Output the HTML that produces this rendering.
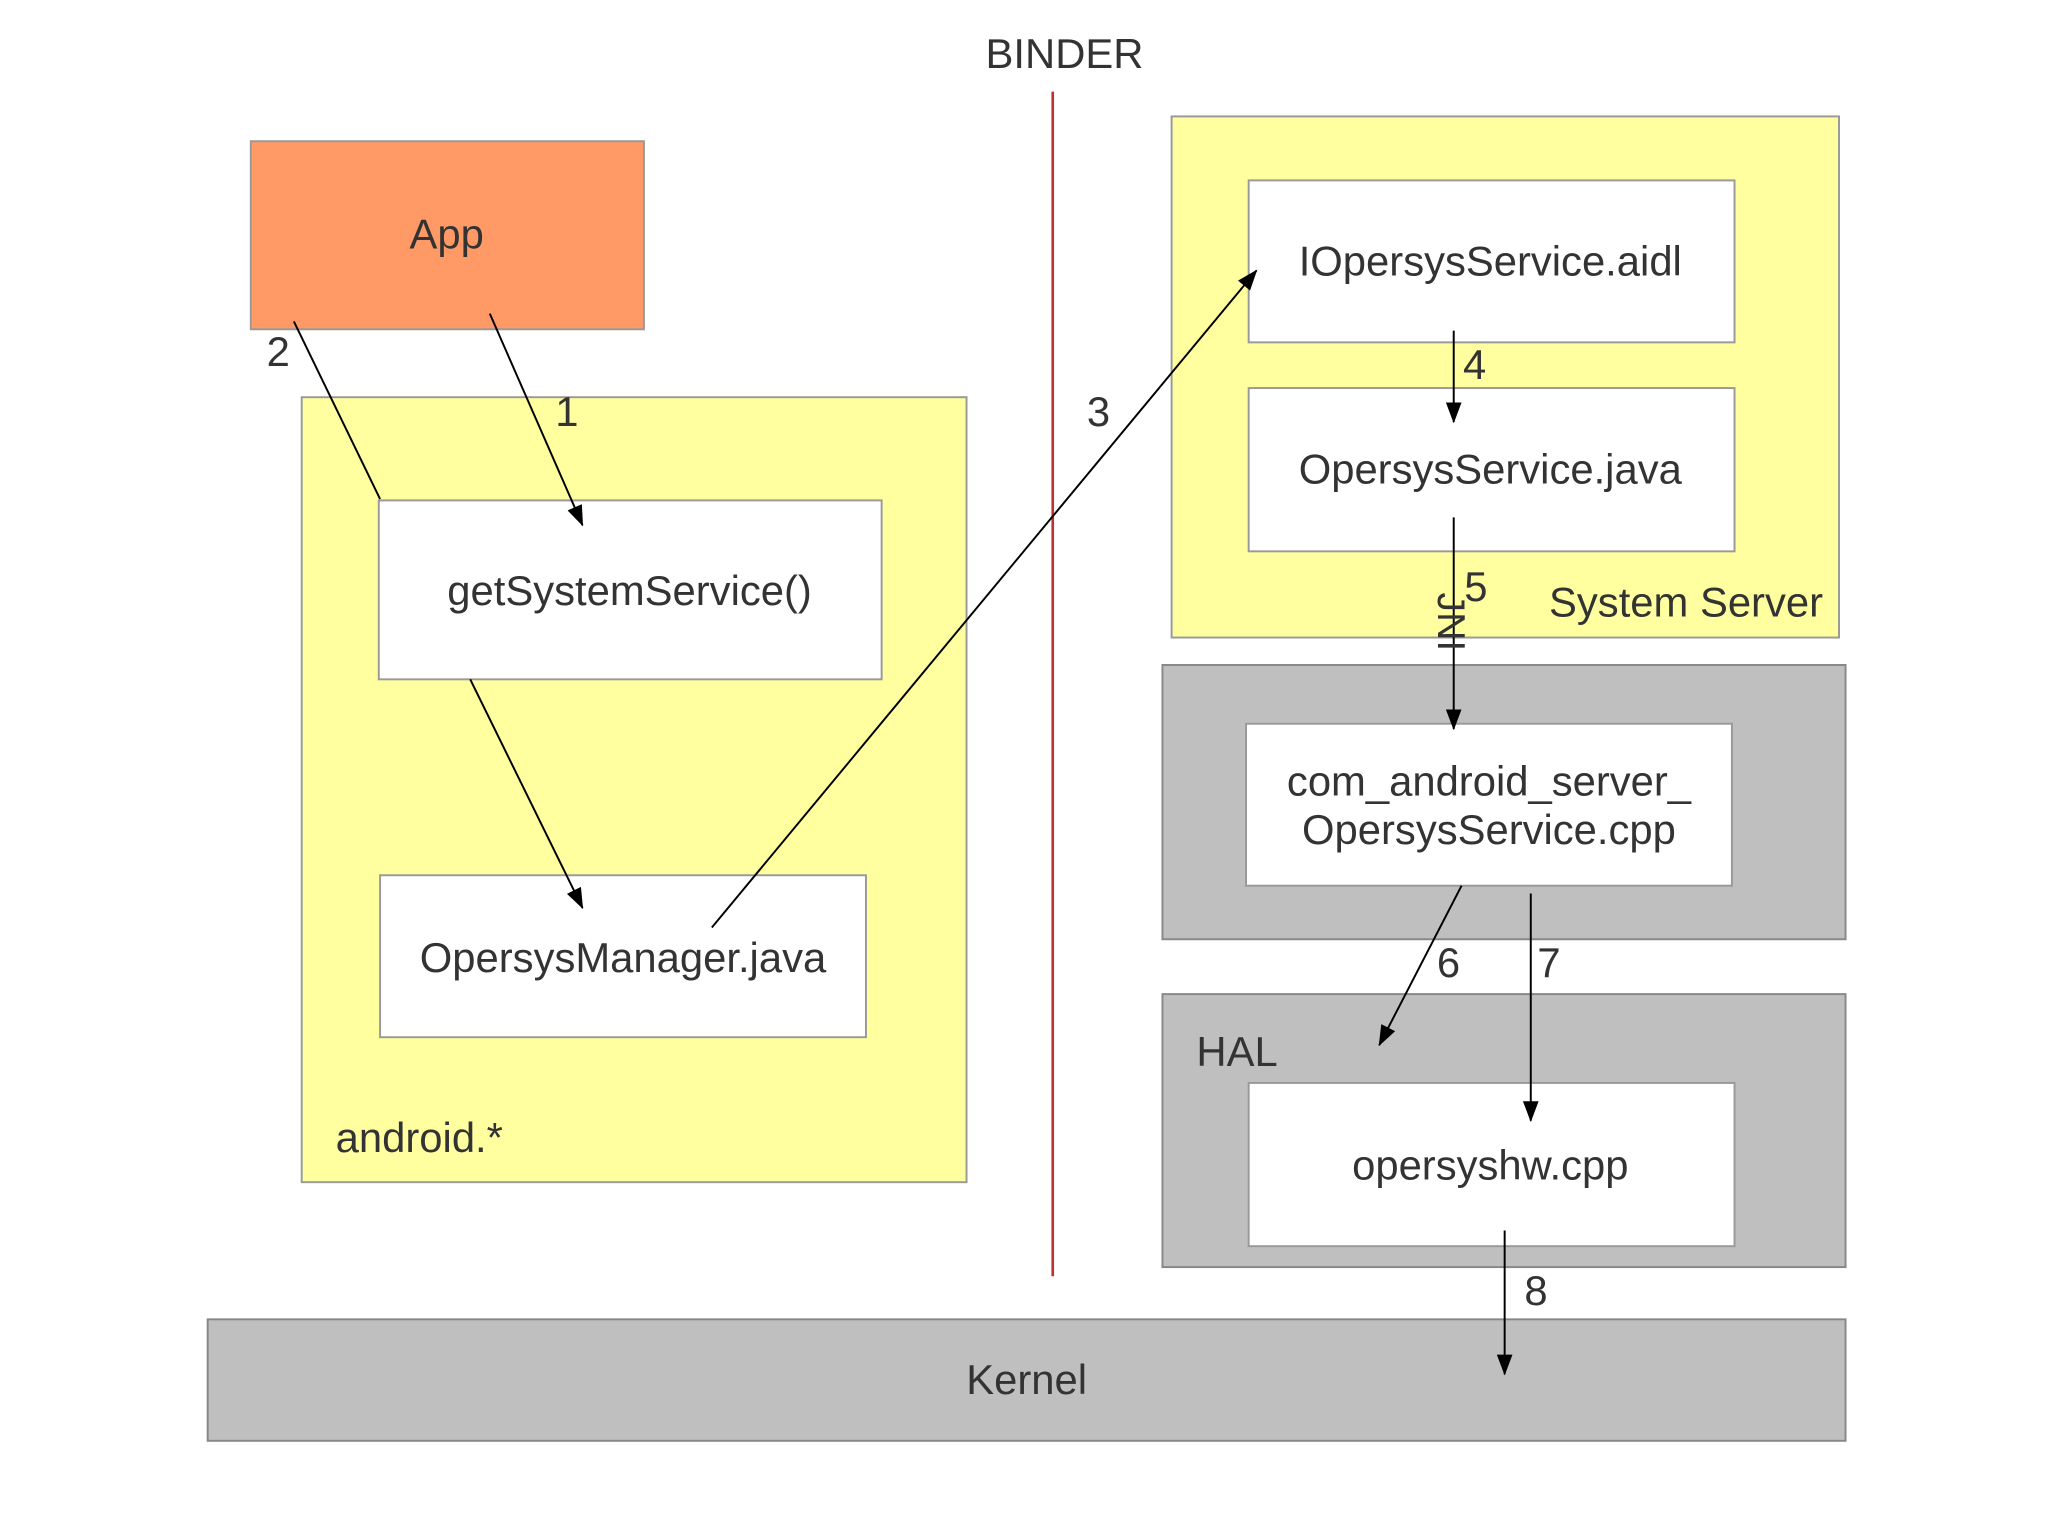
<!DOCTYPE html>
<html><head><meta charset="utf-8"><style>html,body{margin:0;padding:0;background:#fff}svg{display:block}</style></head>
<body>
<svg width="2048" height="1535" viewBox="0 0 1568 1175" xmlns="http://www.w3.org/2000/svg" font-family="Liberation Sans, sans-serif" font-size="32" fill="#333">
<defs><marker id="a" markerWidth="16" markerHeight="12" refX="15" refY="6" orient="auto" markerUnits="userSpaceOnUse"><path d="M0,0 L16,6 L0,12 Z" fill="#000"/></marker></defs>
<rect width="1568" height="1175" fill="#fff"/>
<text x="815" y="52" text-anchor="middle">BINDER</text>
<line x1="806" y1="70" x2="806" y2="977" stroke="#c03030" stroke-width="2"/>
<rect x="192" y="108" width="301" height="144" fill="#ff9966" stroke="#999" stroke-width="1.5"/>
<text x="342" y="190" text-anchor="middle">App</text>
<rect x="231" y="304" width="509" height="601" fill="#ffffa0" stroke="#999" stroke-width="1.5"/>
<text x="257" y="882">android.*</text>
<rect x="290" y="383" width="385" height="137" fill="#fff" stroke="#999" stroke-width="1.5"/>
<text x="482" y="463" text-anchor="middle">getSystemService()</text>
<rect x="291" y="670" width="372" height="124" fill="#fff" stroke="#999" stroke-width="1.5"/>
<text x="477" y="744" text-anchor="middle">OpersysManager.java</text>
<rect x="897" y="89" width="511" height="399" fill="#ffffa0" stroke="#999" stroke-width="1.5"/>
<text x="1186" y="472">System Server</text>
<rect x="956" y="138" width="372" height="124" fill="#fff" stroke="#999" stroke-width="1.5"/>
<text x="1141" y="211" text-anchor="middle">IOpersysService.aidl</text>
<rect x="956" y="297" width="372" height="125" fill="#fff" stroke="#999" stroke-width="1.5"/>
<text x="1141" y="370" text-anchor="middle">OpersysService.java</text>
<rect x="890" y="509" width="523" height="210" fill="#c0bfc0" stroke="#888" stroke-width="1.5"/>
<rect x="954" y="554" width="372" height="124" fill="#fff" stroke="#999" stroke-width="1.5"/>
<text x="1140" y="609" text-anchor="middle">com_android_server_</text>
<text x="1140" y="646" text-anchor="middle">OpersysService.cpp</text>
<rect x="890" y="761" width="523" height="209" fill="#c0bfc0" stroke="#888" stroke-width="1.5"/>
<text x="916" y="816">HAL</text>
<rect x="956" y="829" width="372" height="125" fill="#fff" stroke="#999" stroke-width="1.5"/>
<text x="1141" y="903" text-anchor="middle">opersyshw.cpp</text>
<rect x="159" y="1010" width="1254" height="93" fill="#c0bfc0" stroke="#888" stroke-width="1.5"/>
<text x="786" y="1067" text-anchor="middle">Kernel</text>
<g stroke="#000" stroke-width="1.5" fill="none">
<line x1="375" y1="240" x2="446" y2="402" marker-end="url(#a)"/>
<line x1="225" y1="246" x2="291" y2="382"/>
<line x1="360" y1="520" x2="446" y2="695" marker-end="url(#a)"/>
<line x1="545" y1="710" x2="962" y2="207" marker-end="url(#a)"/>
<line x1="1113" y1="253" x2="1113" y2="323" marker-end="url(#a)"/>
<line x1="1113" y1="396" x2="1113" y2="558" marker-end="url(#a)"/>
<line x1="1119" y1="678" x2="1056" y2="800" marker-end="url(#a)"/>
<line x1="1172" y1="684" x2="1172" y2="858" marker-end="url(#a)"/>
<line x1="1152" y1="942" x2="1152" y2="1052" marker-end="url(#a)"/>
</g>
<text x="434" y="326" text-anchor="middle">1</text>
<text x="213" y="280" text-anchor="middle">2</text>
<text x="841" y="326" text-anchor="middle">3</text>
<text x="1129" y="290" text-anchor="middle">4</text>
<text x="1130" y="460" text-anchor="middle">5</text>
<text transform="translate(1101,476) rotate(90)" text-anchor="middle" font-size="30">JNI</text>
<text x="1109" y="748" text-anchor="middle">6</text>
<text x="1186" y="748" text-anchor="middle">7</text>
<text x="1176" y="999" text-anchor="middle">8</text>
</svg>
</body></html>
